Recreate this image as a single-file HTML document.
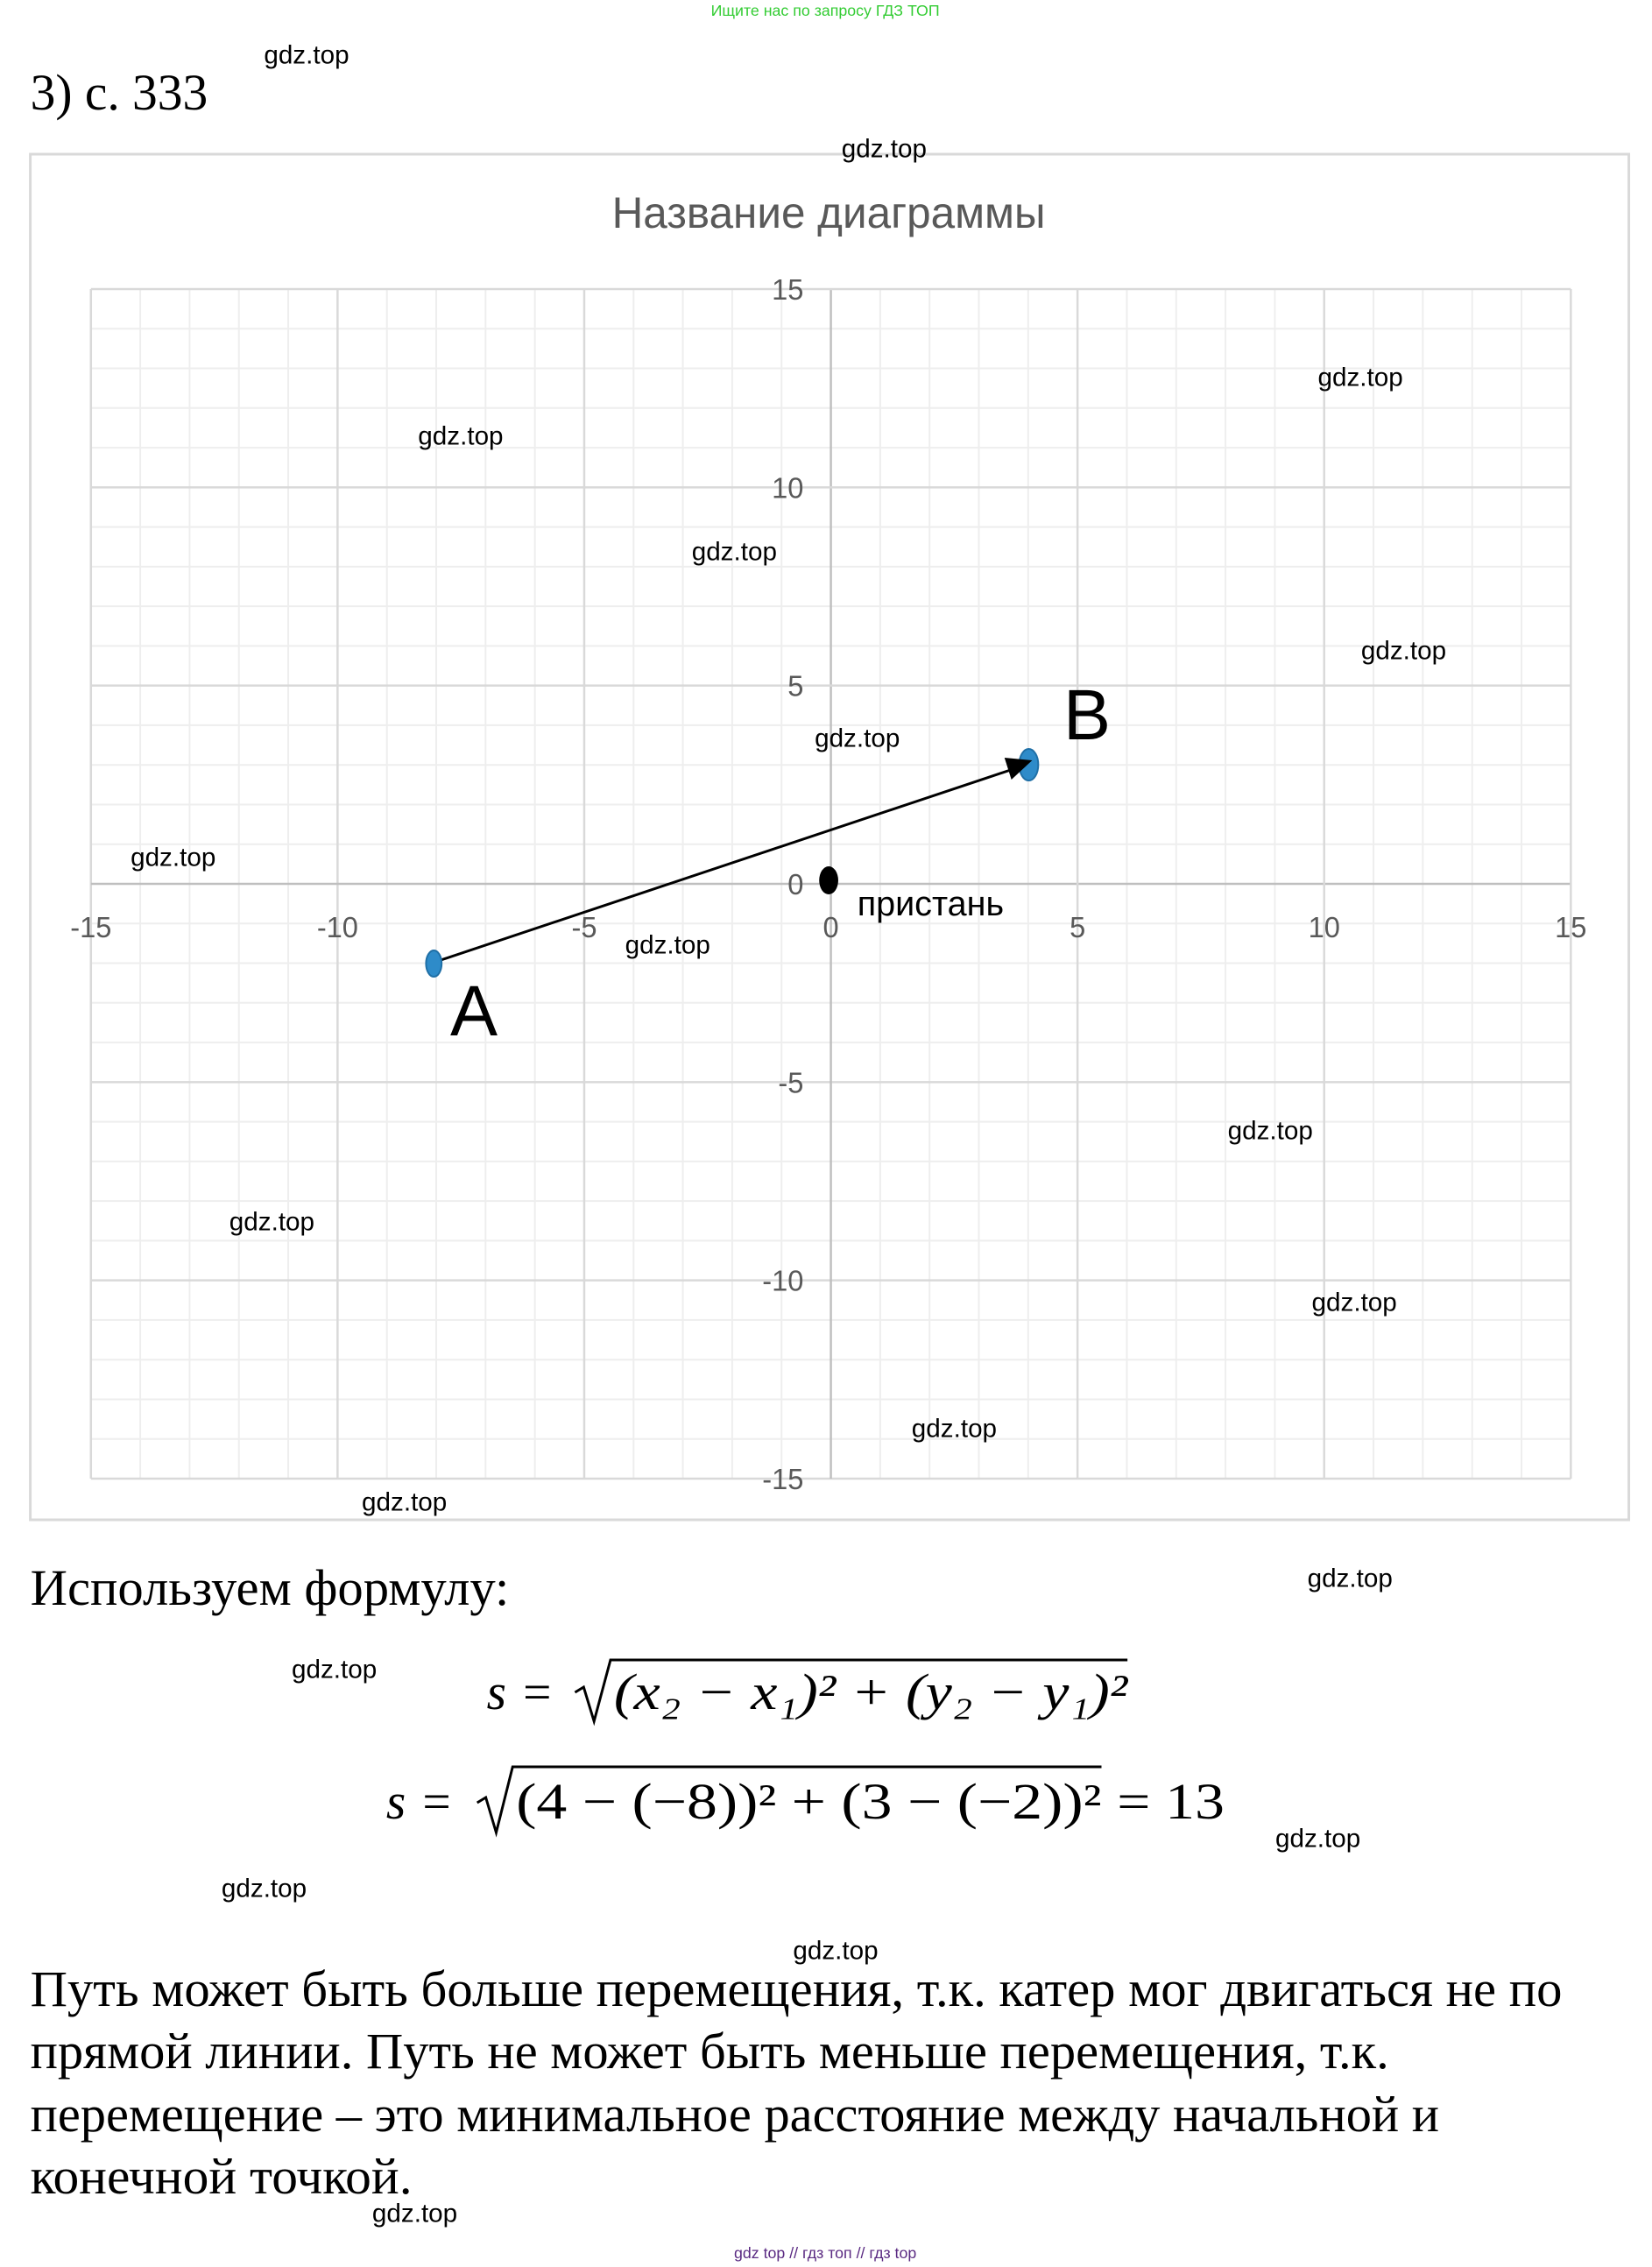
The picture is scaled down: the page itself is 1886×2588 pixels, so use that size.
<!DOCTYPE html>
<html><head><meta charset="utf-8"><style>
html,body{margin:0;padding:0;background:#fff;}
svg{display:block;}
.wm{font-family:"Liberation Sans",sans-serif;font-size:30px;fill:#000;text-anchor:middle;dominant-baseline:central;}
.tk{font-family:"Liberation Sans","DejaVu Sans",sans-serif;font-size:33px;fill:#595959;}
.tm{font-family:"Liberation Serif","DejaVu Serif",serif;font-size:58px;fill:#000;}
.mt{font-family:"Liberation Serif","DejaVu Serif",serif;font-size:58px;fill:#000;}
</style></head><body>
<svg width="1886" height="2588" viewBox="0 0 1886 2588" xmlns="http://www.w3.org/2000/svg">
<rect width="1886" height="2588" fill="#fff"/>
<g transform="scale(0.9886 1)">
<text x="953" y="18" font-family="Liberation Sans,sans-serif" font-size="18" fill="#33cc33" text-anchor="middle">Ищите нас по запросу ГДЗ ТОП</text>
<text class="tm" x="35" y="125" textLength="205" lengthAdjust="spacingAndGlyphs">3) с. 333</text>
<rect x="35" y="176" width="1846" height="1559" fill="#fff" stroke="#d9d9d9" stroke-width="3"/>
<text x="957" y="260" font-family="Liberation Sans,DejaVu Sans,sans-serif" font-size="50" fill="#595959" text-anchor="middle">Название диаграммы</text>
<g id="grid"></g>
<script>
(function(){
var g=document.getElementById('grid'),ns='http://www.w3.org/2000/svg';
var x0=105,x1=1814,y0=330,y1=1688,ux=(x1-x0)/30,uy=(y1-y0)/30;
function ln(a,b,c,d,col,w){var l=document.createElementNS(ns,'line');l.setAttribute('x1',a);l.setAttribute('y1',b);l.setAttribute('x2',c);l.setAttribute('y2',d);l.setAttribute('stroke',col);l.setAttribute('stroke-width',w);g.appendChild(l);}
for(var i=-15;i<=15;i++){ if(i%5==0) continue; var x=x0+(i+15)*ux,y=y0+(15-i)*uy; ln(x,y0,x,y1,'#eeeeee',2); ln(x0,y,x1,y,'#eeeeee',2);}
for(var i=-15;i<=15;i+=5){var x=x0+(i+15)*ux,y=y0+(15-i)*uy; ln(x,y0,x,y1,i==0?'#bfbfbf':'#d9d9d9',2.5); ln(x0,y,x1,y,i==0?'#bfbfbf':'#d9d9d9',2.5);}
function tx(s,x,y,anc){var t=document.createElementNS(ns,'text');t.setAttribute('class','tk');t.setAttribute('x',x);t.setAttribute('y',y);t.setAttribute('text-anchor',anc);t.textContent=s;g.appendChild(t);}
for(var i=-15;i<=15;i+=5){var x=x0+(i+15)*ux,y=y0+(15-i)*uy; tx(String(i),928,y+12,'end'); tx(String(i),x,1070,'middle');}
})();
</script>
<line x1="500" y1="1099" x2="1170" y2="878" stroke="#000" stroke-width="3"/>
<ellipse cx="501" cy="1100" rx="9" ry="15" fill="#2e8bc9" stroke="#1f6fa6" stroke-width="2"/>
<ellipse cx="1188" cy="873" rx="11" ry="18" fill="#2e8bc9" stroke="#1f6fa6" stroke-width="2"/>
<polygon points="1192,868 1160,865 1168,890" fill="#000"/>
<ellipse cx="957" cy="1005" rx="11" ry="16" fill="#000"/>
<text x="990" y="1045" font-family="Liberation Sans,DejaVu Sans,sans-serif" font-size="40" fill="#000">пристань</text>
<text x="520" y="1182" font-family="Liberation Sans,DejaVu Sans,sans-serif" font-size="82" fill="#000">A</text>
<text x="1228" y="844" font-family="Liberation Sans,DejaVu Sans,sans-serif" font-size="82" fill="#000">B</text>
<text class="tm" x="35" y="1832" textLength="553" lengthAdjust="spacingAndGlyphs">Используем формулу:</text>
<text class="mt" x="562" y="1951" font-style="italic">s</text>
<text class="mt" x="604" y="1951">=</text>
<path d="M664 1932 L674 1926 L686 1965 L705 1895 L1302 1895" fill="none" stroke="#000" stroke-width="3"/>
<text class="mt" x="709" y="1951" font-style="italic" textLength="593" lengthAdjust="spacingAndGlyphs">(x₂ − x₁)² + (y₂ − y₁)²</text>
<text class="mt" x="446" y="2076" font-style="italic">s</text>
<text class="mt" x="488" y="2076">=</text>
<path d="M551 2058 L561 2052 L573 2092 L592 2017 L1272 2017" fill="none" stroke="#000" stroke-width="3"/>
<text class="mt" x="596" y="2076" textLength="676" lengthAdjust="spacingAndGlyphs">(4 − (−8))² + (3 − (−2))²</text>
<text class="mt" x="1290" y="2076" textLength="124" lengthAdjust="spacingAndGlyphs">= 13</text>
<text class="tm" x="35" y="2290" textLength="1769" lengthAdjust="spacingAndGlyphs">Путь может быть больше перемещения, т.к. катер мог двигаться не по</text>
<text class="tm" x="35" y="2361" textLength="1569" lengthAdjust="spacingAndGlyphs">прямой линии. Путь не может быть меньше перемещения, т.к.</text>
<text class="tm" x="35" y="2433" textLength="1627" lengthAdjust="spacingAndGlyphs">перемещение – это минимальное расстояние между начальной и</text>
<text class="tm" x="35" y="2504" textLength="441" lengthAdjust="spacingAndGlyphs">конечной точкой.</text>
<text x="953" y="2578" font-family="Liberation Sans,sans-serif" font-size="18" fill="#5a2a82" text-anchor="middle">gdz top // гдз топ // гдз top</text>
<g>
<text class="wm" x="354" y="63">gdz.top</text>
<text class="wm" x="1021" y="170">gdz.top</text>
<text class="wm" x="1571" y="431">gdz.top</text>
<text class="wm" x="532" y="498">gdz.top</text>
<text class="wm" x="848" y="630">gdz.top</text>
<text class="wm" x="1621" y="743">gdz.top</text>
<text class="wm" x="990" y="843">gdz.top</text>
<text class="wm" x="200" y="979">gdz.top</text>
<text class="wm" x="771" y="1079">gdz.top</text>
<text class="wm" x="1467" y="1291">gdz.top</text>
<text class="wm" x="314" y="1395">gdz.top</text>
<text class="wm" x="1564" y="1487">gdz.top</text>
<text class="wm" x="1102" y="1631">gdz.top</text>
<text class="wm" x="467" y="1715">gdz.top</text>
<text class="wm" x="1559" y="1802">gdz.top</text>
<text class="wm" x="386" y="1906">gdz.top</text>
<text class="wm" x="1522" y="2099">gdz.top</text>
<text class="wm" x="305" y="2156">gdz.top</text>
<text class="wm" x="965" y="2227">gdz.top</text>
<text class="wm" x="479" y="2527">gdz.top</text>
</g>
</g>
</svg>
</body></html>
